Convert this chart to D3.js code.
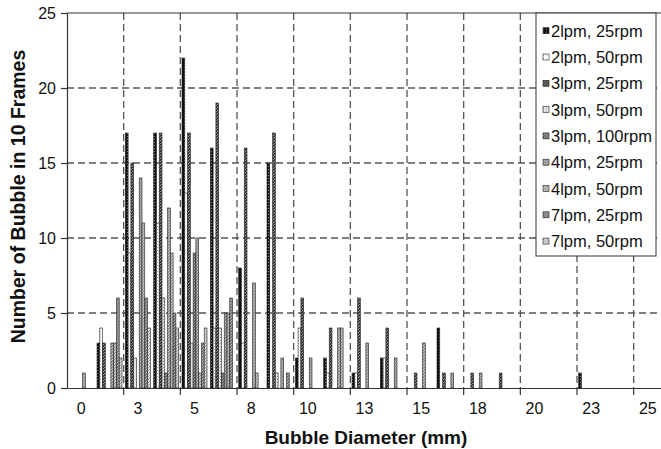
<!DOCTYPE html>
<html>
<head>
<meta charset="utf-8">
<script src="https://cdn.jsdelivr.net/npm/d3@7"></script>
<style>
body{margin:0;background:#fff}
text{font-family:"Liberation Sans",Arial,sans-serif}
</style>
</head>
<body>
<div id="chart"></div>
<script>
// bin centres (mm), 1.25 mm bins
var diameters = [0,1.25,2.5,3.75,5,6.25,7.5,8.75,10,11.25,12.5,13.75,15,16.25,17.5,18.75,20,21.25,22.5,23.75,25];
var seriesNames = ["2lpm, 25rpm","2lpm, 50rpm","3lpm, 25rpm","3lpm, 50rpm","3lpm, 100rpm","4lpm, 25rpm","4lpm, 50rpm","7lpm, 25rpm","7lpm, 50rpm"];
var lpm2rpm25  = [0,3,17,17,22,16,8,15,2,2,1,2,0,4,0,0,0,0,1,0,0];
var lpm2rpm50  = [0,4,9,11,13,4,3,0,4,1,1,2,0,0,0,0,0,0,0,0,0];
var lpm3rpm25  = [0,3,15,17,17,19,16,17,6,4,6,4,1,1,1,1,0,0,0,0,0];
var lpm3rpm50  = [0,0,2,6,3,4,0,1,0,0,0,0,0,0,0,0,0,0,0,0,0];
var lpm3rpm100 = [0,0,0,1,9,1,0,0,0,0,0,0,0,0,0,0,0,0,0,0,0];
var lpm4rpm25  = [1,3,14,12,10,5,7,2,2,4,3,2,3,1,1,0,0,0,0,0,0];
var lpm4rpm50  = [0,3,11,9,1,5,1,0,0,4,0,0,0,0,0,0,0,0,0,0,0];
var lpm7rpm25  = [0,6,6,5,3,6,0,1,0,0,0,0,0,0,0,0,0,0,0,0,0];
var lpm7rpm50  = [0,2,4,4,4,0,0,0,0,0,0,0,0,0,0,0,0,0,0,0,0];
var yTicks = [0,5,10,15,20,25];

var allSeries = [lpm2rpm25,lpm2rpm50,lpm3rpm25,lpm3rpm50,lpm3rpm100,lpm4rpm25,lpm4rpm50,lpm7rpm25,lpm7rpm50];

var width = 661, height = 449;
var margin = {top: 13, left: 67, right: -1, bottom: 61};

var svg = d3.select("#chart").append("svg")
    .attr("width", width)
    .attr("height", height);

// fill patterns, roughly like the excel ones
var defs = svg.append("defs");
var pats = [
    {bg:"#111", fg:"#888", kind:"dot"},
    {bg:"#fff", fg:"#bbb", kind:"dot"},
    {bg:"#333", fg:"#999", kind:"check"},
    {bg:"#e4e4e4", fg:"#999", kind:"dot"},
    {bg:"#666", fg:"#aaa", kind:"check"},
    {bg:"#8c8c8c", fg:"#c8c8c8", kind:"check"},
    {bg:"#c4c4c4", fg:"#888", kind:"diag"},
    {bg:"#777", fg:"#bbb", kind:"diag"},
    {bg:"#ddd", fg:"#999", kind:"diag"}
];
pats.forEach(function(p, i){
    var pt = defs.append("pattern")
        .attr("id", "pat" + i)
        .attr("patternUnits", "userSpaceOnUse")
        .attr("width", 3).attr("height", 3);
    pt.append("rect").attr("width", 3).attr("height", 3).attr("fill", p.bg);
    if (p.kind == "dot") {
        pt.append("rect").attr("x", 1).attr("y", 1).attr("width", 1).attr("height", 1).attr("fill", p.fg);
    } else if (p.kind == "check") {
        pt.append("rect").attr("x", 0).attr("y", 0).attr("width", 1).attr("height", 1).attr("fill", p.fg);
        pt.append("rect").attr("x", 2).attr("y", 1).attr("width", 1).attr("height", 1).attr("fill", p.fg);
        pt.append("rect").attr("x", 1).attr("y", 2).attr("width", 1).attr("height", 1).attr("fill", p.fg);
    } else {
        pt.append("path").attr("d", "M0,3L3,0M-1,1L1,-1M2,4L4,2").attr("stroke", p.fg).attr("stroke-width", 0.9);
    }
});

var x = d3.scaleBand()
    .domain(diameters)
    .range([margin.left, width - margin.right])
    .padding(0);

var xInner = d3.scaleBand()
    .domain(d3.range(seriesNames.length))
    .range([0, x.bandwidth()])
    .paddingInner(0)
    .paddingOuter(0.6);

var y = d3.scaleLinear()
    .domain([0, 25])
    .range([height - margin.bottom, margin.top]);

// gridlines
svg.append("g")
    .selectAll("line")
    .data([5,10,15,20])
    .enter().append("line")
    .attr("x1", margin.left).attr("x2", width)
    .attr("y1", function(d){ return y(d); })
    .attr("y2", function(d){ return y(d); })
    .attr("stroke", "#555").attr("stroke-width", 1.3)
    .attr("stroke-dasharray", "7,4");

var boundaries = diameters.filter(function(d, i){ return i > 0 && i % 2 == 0; });
svg.append("g")
    .selectAll("line")
    .data(boundaries)
    .enter().append("line")
    .attr("x1", function(d){ return x(d); })
    .attr("x2", function(d){ return x(d); })
    .attr("y1", y(25)).attr("y2", y(0))
    .attr("stroke", "#555").attr("stroke-width", 1.3)
    .attr("stroke-dasharray", "7,4");

// top border
svg.append("line")
    .attr("x1", margin.left).attr("x2", width)
    .attr("y1", y(25)).attr("y2", y(25))
    .attr("stroke", "#333").attr("stroke-width", 1.2);

// bars
allSeries.forEach(function(vals, si){
    svg.append("g")
        .selectAll("rect")
        .data(vals.map(function(v, i){ return {d: diameters[i], v: v}; }).filter(function(o){ return o.v > 0; }))
        .enter().append("rect")
        .attr("x", function(o){ return x(o.d) + xInner(si); })
        .attr("y", function(o){ return y(o.v); })
        .attr("width", xInner.bandwidth())
        .attr("height", function(o){ return y(0) - y(o.v); })
        .attr("fill", "url(#pat" + si + ")")
        .attr("stroke", "#222")
        .attr("stroke-width", 0.6);
});

// y axis
var yAxis = svg.append("g")
    .attr("transform", "translate(" + margin.left + ",0)")
    .call(d3.axisLeft(y).tickValues(yTicks).tickSize(6).tickPadding(5).tickSizeOuter(0));
yAxis.select(".domain").attr("stroke", "#333").attr("stroke-width", 1.2);
yAxis.selectAll(".tick line").attr("stroke", "#333").attr("stroke-width", 1.2);
yAxis.selectAll("text").style("font-size", "16px").attr("fill", "#111");

// x axis: labels on every other bin, ticks on bin boundaries
var xAxis = svg.append("g")
    .attr("transform", "translate(0," + y(0) + ")")
    .call(d3.axisBottom(x)
        .tickValues(diameters.filter(function(d, i){ return i % 2 == 0; }))
        .tickFormat(function(d){ return Math.round(d); })
        .tickSize(0).tickPadding(15).tickSizeOuter(0));
xAxis.select(".domain").attr("stroke", "#333").attr("stroke-width", 1.2);
xAxis.selectAll("text").style("font-size", "16px").attr("fill", "#111");

svg.append("g")
    .selectAll("line")
    .data(boundaries)
    .enter().append("line")
    .attr("x1", function(d){ return x(d); })
    .attr("x2", function(d){ return x(d); })
    .attr("y1", y(0)).attr("y2", y(0) + 7)
    .attr("stroke", "#333").attr("stroke-width", 1.2);

// axis titles
svg.append("text")
    .attr("x", 366)
    .attr("y", 444)
    .attr("text-anchor", "middle")
    .style("font-size", "19px")
    .style("font-weight", "bold")
    .attr("fill", "#111")
    .text("Bubble Diameter (mm)");

svg.append("text")
    .attr("transform", "translate(25," + ((y(0) + y(25)) / 2 - 4) + ") rotate(-90)")
    .attr("text-anchor", "middle")
    .style("font-size", "19.5px")
    .style("font-weight", "bold")
    .attr("fill", "#111")
    .text("Number of Bubble in 10 Frames");

// legend
var legend = svg.append("g").attr("transform", "translate(536,13)");
legend.append("rect")
    .attr("width", 120).attr("height", 243)
    .attr("fill", "#fff").attr("stroke", "#333").attr("stroke-width", 1);

seriesNames.forEach(function(name, i){
    var row = legend.append("g").attr("transform", "translate(0," + (17.7 + i * 26.3) + ")");
    row.append("rect")
        .attr("x", 7).attr("y", -3)
        .attr("width", 6).attr("height", 6)
        .attr("fill", "url(#pat" + i + ")")
        .attr("stroke", "#222").attr("stroke-width", 0.6);
    row.append("text")
        .attr("x", 15).attr("y", 6)
        .style("font-size", "16.5px")
        .attr("fill", "#111")
        .text(name);
});
</script>
</body>
</html>
